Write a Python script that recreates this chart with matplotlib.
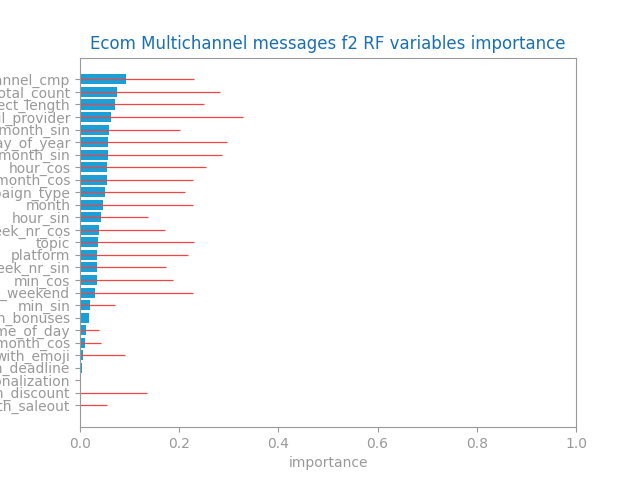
import matplotlib
matplotlib.use("Agg")
import matplotlib.pyplot as plt
import numpy as np

features = ["multichannel_cmp", "total_count", "subject_length", "email_provider",
            "day_of_month_sin", "day_of_year", "week_of_month_sin", "hour_cos",
            "day_of_month_cos", "campaign_type", "month", "hour_sin", "week_nr_cos",
            "topic", "platform", "week_nr_sin", "min_cos", "is_weekend", "min_sin",
            "with_bonuses", "time_of_day", "week_of_month_cos", "with_emoji",
            "with_deadline", "personalization", "with_discount", "with_saleout"]
importance = [0.0927, 0.0746, 0.0706, 0.0625, 0.0585, 0.0565, 0.0565, 0.0544,
              0.0544, 0.0504, 0.0464, 0.0423, 0.0383, 0.0363, 0.0343, 0.0343,
              0.0343, 0.0302, 0.0202, 0.0181, 0.0121, 0.0101, 0.0060, 0.0040,
              0.0, 0.0, 0.0]
std = [0.1378, 0.2083, 0.1801, 0.2668, 0.1438, 0.2405, 0.2305, 0.2003,
       0.1741, 0.1620, 0.1821, 0.0954, 0.1337, 0.1942, 0.1841, 0.1397,
       0.1539, 0.1983, 0.0510, 0.0, 0.0269, 0.0329, 0.0854, 0.0,
       0.0, 0.1358, 0.0551]

grey = "#999999"
fig, ax = plt.subplots(figsize=(6.4, 4.8), dpi=100)
y = np.arange(len(features))[::-1]
ax.barh(y, importance, xerr=std, color="#1a9fd6", ecolor="#f04545",
        error_kw=dict(elinewidth=0.9))
ax.set_yticks(y)
ax.set_yticklabels(features)
ax.set_xlim(0, 1.0)
ax.set_xticks([0.0, 0.2, 0.4, 0.6, 0.8, 1.0])
ax.set_xlabel("importance", color=grey)
ax.set_title("Ecom Multichannel messages f2 RF variables importance", color="#1a6fb5", fontsize=12)
for s in ax.spines.values():
    s.set_color(grey)
ax.tick_params(colors=grey, labelcolor=grey)
fig.savefig("out.png", dpi=100)
